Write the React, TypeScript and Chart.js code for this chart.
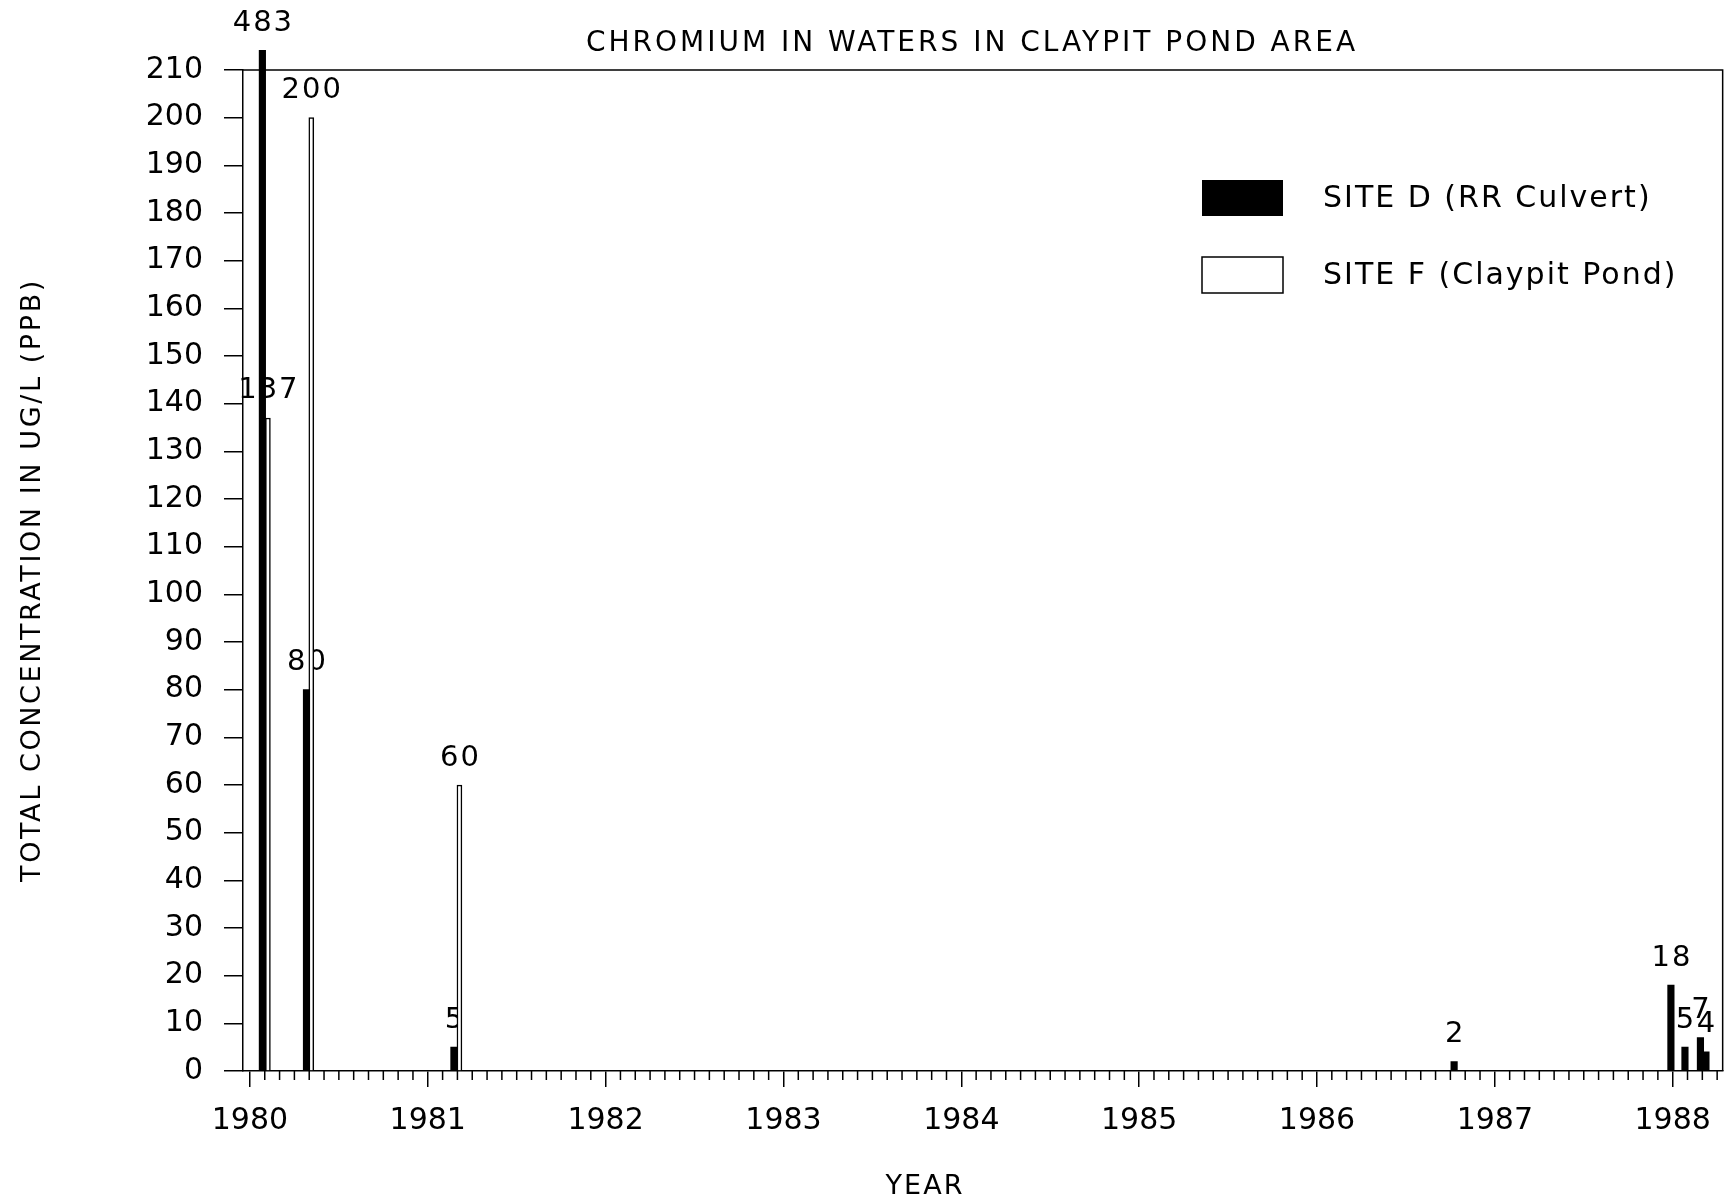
import { useEffect, useRef } from "react";
import { Chart, registerables } from "chart.js";

Chart.register(...registerables);

const chartTitle = "CHROMIUM IN WATERS IN CLAYPIT POND AREA";
const yAxisTitle = "TOTAL CONCENTRATION IN UG/L (PPB)";
const xAxisTitle = "YEAR";

const yearTicks = [1980, 1981, 1982, 1983, 1984, 1985, 1986, 1987, 1988];

const siteDLabel = "SITE D (RR Culvert)";
const siteDDates = [1980.07, 1980.318, 1981.147, 1986.771, 1987.99, 1988.069, 1988.156, 1988.187];
const siteDValues = [483, 80, 5, 2, 18, 5, 7, 4];

const siteFLabel = "SITE F (Claypit Pond)";
const siteFDates = [1980.101, 1980.345, 1981.178];
const siteFValues = [137, 200, 60];

const FONT = "'DejaVu Sans', 'Liberation Sans', sans-serif";

export default function App() {
  const ref = useRef<HTMLCanvasElement>(null);

  useEffect(() => {
    document.body.style.margin = "0";
    const canvas = ref.current!;

    const framePlugin = {
      id: "frameAndText",
      beforeDatasetsDraw(chart: any) {
        const ctx = chart.ctx;
        const area = chart.chartArea;
        // value labels (drawn under bars, as in the reference)
        ctx.save();
        ctx.fillStyle = "#000";
        ctx.font = `29px ${FONT}`;
        (ctx as any).letterSpacing = "2px";
        ctx.textAlign = "center";
        ctx.textBaseline = "middle";
        chart.data.datasets.forEach((ds: any, di: number) => {
          const meta = chart.getDatasetMeta(di);
          meta.data.forEach((el: any, i: number) => {
            const top = Math.max(el.y, area.top - 20);
            ctx.fillText(String(ds.data[i].y), el.x + 1, top - 27);
          });
        });
        (ctx as any).letterSpacing = "0px";
        ctx.restore();
      },
      afterDraw(chart: any) {
        const ctx = chart.ctx;
        const area = chart.chartArea;
        const xs = chart.scales.x;
        ctx.save();
        ctx.strokeStyle = "#000";
        ctx.lineWidth = 1.5;
        // frame top and right
        ctx.beginPath();
        ctx.moveTo(area.left, area.top);
        ctx.lineTo(area.right, area.top);
        ctx.lineTo(area.right, area.bottom);
        ctx.stroke();
        // monthly minor ticks
        ctx.beginPath();
        for (let m = Math.ceil(xs.min * 12); m <= Math.floor(xs.max * 12); m++) {
          if (m % 12 === 0) continue;
          const px = xs.getPixelForValue(m / 12);
          ctx.moveTo(px, area.bottom);
          ctx.lineTo(px, area.bottom + 9);
        }
        ctx.stroke();

        ctx.fillStyle = "#000";
        ctx.textAlign = "center";
        ctx.textBaseline = "middle";
        ctx.font = `28px ${FONT}`;
        (ctx as any).letterSpacing = "3px";
        ctx.fillText(chartTitle, 972, 44);
        ctx.font = `27px ${FONT}`;
        (ctx as any).letterSpacing = "2px";
        ctx.fillText(xAxisTitle, 925, 1187);
        ctx.save();
        ctx.translate(33, 580);
        ctx.rotate(-Math.PI / 2);
        (ctx as any).letterSpacing = "2.6px";
        ctx.fillText(yAxisTitle, 0, 0);
        ctx.restore();

        // legend
        const dsets = chart.data.datasets;
        const rows = [199, 276];
        ctx.font = `30px ${FONT}`;
        (ctx as any).letterSpacing = "2px";
        ctx.textAlign = "left";
        dsets.forEach((ds: any, i: number) => {
          const cy = rows[i];
          ctx.fillStyle = ds.backgroundColor;
          ctx.fillRect(1202, cy - 19, 81, 36);
          if (ds.borderWidth) {
            ctx.lineWidth = 1.5;
            ctx.strokeStyle = ds.borderColor;
            ctx.strokeRect(1202, cy - 19, 81, 36);
          }
          ctx.fillStyle = "#000";
          ctx.fillText(ds.label, 1323, cy);
        });
        (ctx as any).letterSpacing = "0px";
        ctx.restore();
      },
    };

    const chart = new Chart(canvas, {
      type: "bar",
      data: {
        datasets: [
          {
            label: siteDLabel,
            data: siteDDates.map((d, i) => ({ x: d, y: siteDValues[i] })),
            backgroundColor: "#000",
            borderWidth: 0,
            barThickness: 6.5,
            grouped: false,
            clip: { left: 10, top: 20, right: 10, bottom: 0 },
          } as any,
          {
            label: siteFLabel,
            data: siteFDates.map((d, i) => ({ x: d, y: siteFValues[i] })),
            backgroundColor: "#fff",
            borderColor: "#000",
            borderWidth: 1.5,
            barThickness: 5,
            grouped: false,
          } as any,
        ],
      },
      options: {
        responsive: false,
        animation: false,
        layout: { padding: { top: 70, right: 4, left: 0, bottom: 0 } },
        plugins: {
          legend: { display: false },
          title: { display: false },
          tooltip: { enabled: false },
        },
        scales: {
          x: {
            type: "linear",
            min: 1979.961,
            max: 1988.281,
            offset: false,
            afterBuildTicks: (s: any) => {
              s.ticks = yearTicks.map((v) => ({ value: v }));
            },
            afterFit: (s: any) => {
              s.height = 131;
            },
            grid: {
              offset: false,
              drawOnChartArea: false,
              drawTicks: true,
              tickLength: 16,
              color: "#000",
              lineWidth: 1.5,
            },
            border: { display: true, color: "#000", width: 1.5 },
            ticks: {
              color: "#000",
              font: { family: FONT, size: 30 },
              padding: 16,
              maxRotation: 0,
              autoSkip: false,
              callback: (v: any) => String(v),
            },
          },
          y: {
            min: 0,
            max: 210,
            afterFit: (s: any) => {
              s.width = 243;
            },
            grid: {
              drawOnChartArea: false,
              drawTicks: true,
              tickLength: 19,
              color: "#000",
              lineWidth: 1.5,
            },
            border: { display: true, color: "#000", width: 1.5 },
            ticks: {
              stepSize: 10,
              color: "#000",
              font: { family: FONT, size: 30 },
              padding: 21,
              autoSkip: false,
            },
          },
        },
      } as any,
      plugins: [framePlugin],
    });
    return () => chart.destroy();
  }, []);

  return (
    <div style={{ width: 1727, height: 1202, background: "#fff" }}>
      <canvas ref={ref} width={1727} height={1202} style={{ display: "block" }} />
    </div>
  );
}
